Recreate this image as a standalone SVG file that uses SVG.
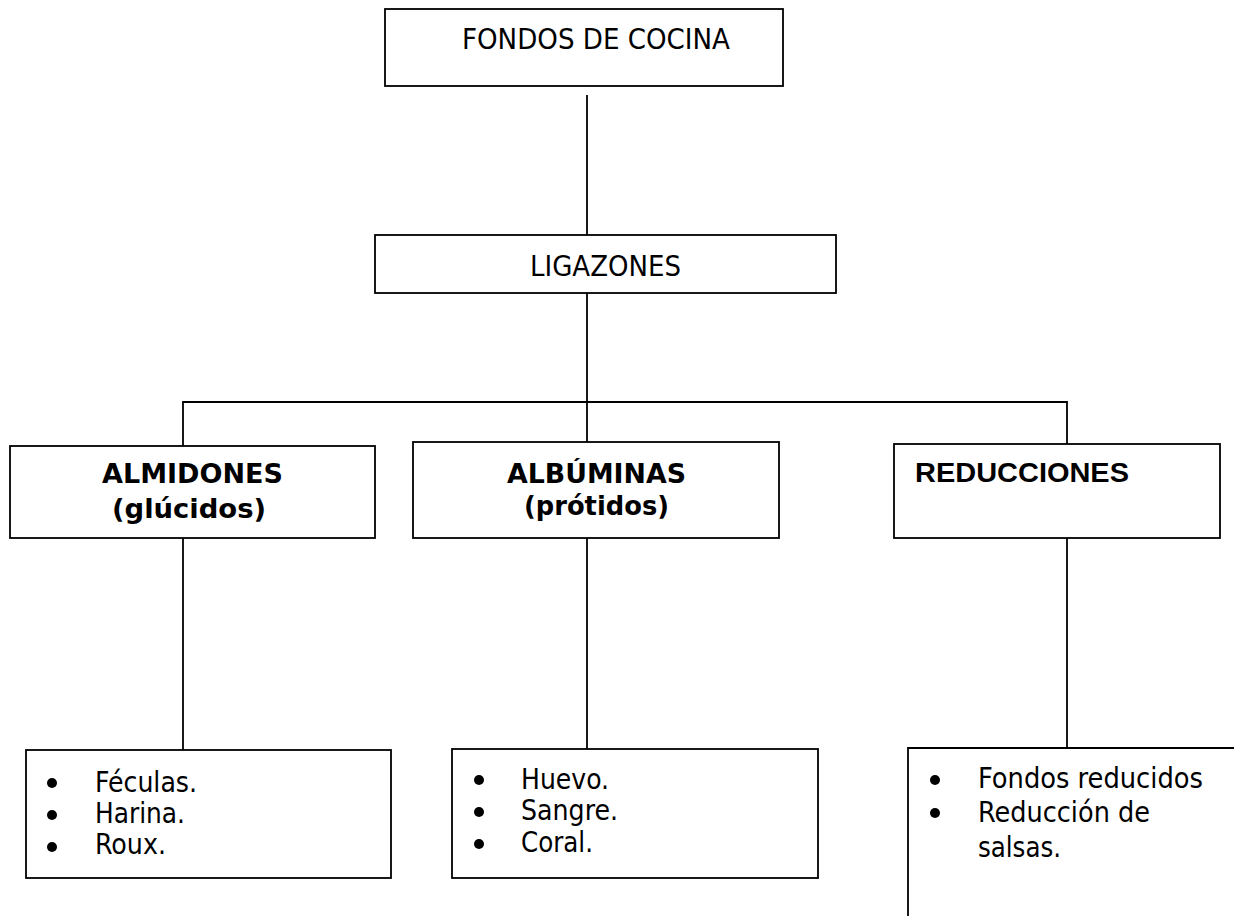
<svg xmlns="http://www.w3.org/2000/svg" width="1234" height="916" viewBox="0 0 1234 916">
<style>
.box{fill:#fff;stroke:#000;stroke-width:1.8}
.ln{fill:none;stroke:#000;stroke-width:1.8}
.t{font-family:"DejaVu Sans Condensed","DejaVu Sans",sans-serif;font-size:29px;fill:#000}
.b{font-family:"DejaVu Sans","Liberation Sans",sans-serif;font-size:26px;font-weight:bold;fill:#000}
.a{font-family:"Liberation Sans",Arial,sans-serif;font-size:27px;font-weight:bold;fill:#000}
.dot{fill:#000}
</style>
<rect width="1234" height="916" fill="#fff"/>
<g id="connectors">
<line class="ln" x1="587" y1="95" x2="587" y2="235"/>
<line class="ln" x1="587" y1="293" x2="587" y2="402"/>
<polyline class="ln" points="183,446 183,402 1067,402 1067,444"/>
<line class="ln" x1="587" y1="402" x2="587" y2="442"/>
<line class="ln" x1="183" y1="538" x2="183" y2="750"/>
<line class="ln" x1="587" y1="538" x2="587" y2="749"/>
<line class="ln" x1="1067" y1="538" x2="1067" y2="748"/>
</g>
<g id="fondos">
<rect class="box" x="385" y="9" width="398" height="77"/>
<text class="t" x="462" y="49" textLength="268" lengthAdjust="spacingAndGlyphs">FONDOS DE COCINA</text>
</g>
<g id="ligazones">
<rect class="box" x="375" y="235" width="461" height="58"/>
<text class="t" x="530" y="276" textLength="151" lengthAdjust="spacingAndGlyphs">LIGAZONES</text>
</g>
<g id="almidones">
<rect class="box" x="10" y="446" width="365" height="92"/>
<text class="b" x="102" y="483" textLength="181" lengthAdjust="spacingAndGlyphs">ALMIDONES</text>
<text class="b" x="112" y="518" textLength="154" lengthAdjust="spacingAndGlyphs">(glúcidos)</text>
</g>
<g id="albuminas">
<rect class="box" x="413" y="442" width="366" height="96"/>
<text class="b" x="507" y="483" textLength="179" lengthAdjust="spacingAndGlyphs">ALBÚMINAS</text>
<text class="b" x="524" y="515" textLength="145" lengthAdjust="spacingAndGlyphs">(prótidos)</text>
</g>
<g id="reducciones">
<rect class="box" x="894" y="444" width="326" height="94"/>
<text class="a" x="915" y="482" textLength="214" lengthAdjust="spacingAndGlyphs">REDUCCIONES</text>
</g>
<g id="lista-almidones">
<rect class="box" x="26" y="750" width="365" height="128"/>
<circle class="dot" cx="52" cy="783" r="5"/>
<circle class="dot" cx="52" cy="815" r="5"/>
<circle class="dot" cx="52" cy="847" r="5"/>
<text class="t" x="95" y="792" textLength="102" lengthAdjust="spacingAndGlyphs">Féculas.</text>
<text class="t" x="95" y="823" textLength="90" lengthAdjust="spacingAndGlyphs">Harina.</text>
<text class="t" x="95" y="854" textLength="71" lengthAdjust="spacingAndGlyphs">Roux.</text>
</g>
<g id="lista-albuminas">
<rect class="box" x="452" y="749" width="366" height="129"/>
<circle class="dot" cx="479" cy="780" r="5"/>
<circle class="dot" cx="479" cy="812" r="5"/>
<circle class="dot" cx="479" cy="844" r="5"/>
<text class="t" x="521" y="789" textLength="88" lengthAdjust="spacingAndGlyphs">Huevo.</text>
<text class="t" x="521" y="820" textLength="97" lengthAdjust="spacingAndGlyphs">Sangre.</text>
<text class="t" x="521" y="852" textLength="72" lengthAdjust="spacingAndGlyphs">Coral.</text>
</g>
<g id="lista-reducciones">
<polyline class="ln" points="1234,748 908,748 908,916"/>
<circle class="dot" cx="935" cy="780" r="5"/>
<circle class="dot" cx="935" cy="813" r="5"/>
<text class="t" x="978" y="788" textLength="225" lengthAdjust="spacingAndGlyphs">Fondos reducidos</text>
<text class="t" x="978" y="822" textLength="172" lengthAdjust="spacingAndGlyphs">Reducción de</text>
<text class="t" x="978" y="857" textLength="83" lengthAdjust="spacingAndGlyphs">salsas.</text>
</g>
</svg>
